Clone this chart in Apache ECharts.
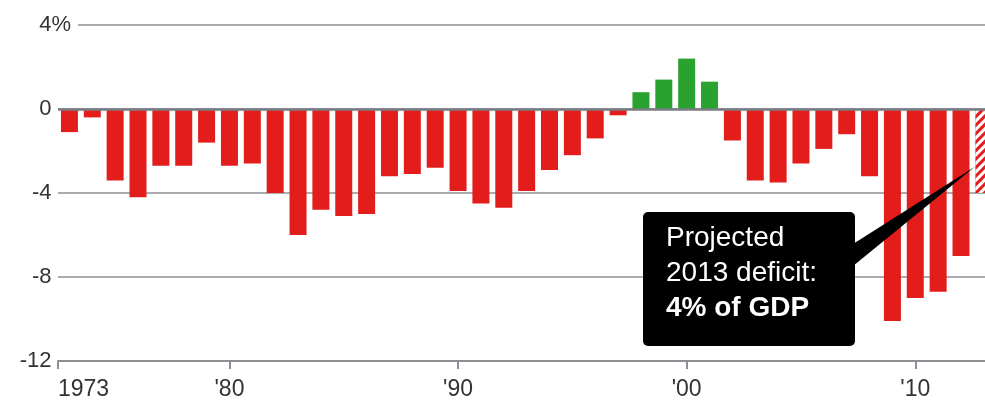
<!DOCTYPE html>
<html>
<head>
<meta charset="utf-8">
<style>
  html, body { margin: 0; padding: 0; background: #fff; }
  #chart { width: 985px; height: 403px; }
</style>
<script src="https://cdn.jsdelivr.net/npm/echarts@6/dist/echarts.min.js"></script>
</head>
<body>
<div id="chart"></div>
<script>
// Federal budget balance, percent of GDP, fiscal years 1973-2013 (2013 projected)
const years = [
  1973, 1974, 1975, 1976, 1977, 1978, 1979, 1980, 1981, 1982,
  1983, 1984, 1985, 1986, 1987, 1988, 1989, 1990, 1991, 1992,
  1993, 1994, 1995, 1996, 1997, 1998, 1999, 2000, 2001, 2002,
  2003, 2004, 2005, 2006, 2007, 2008, 2009, 2010, 2011, 2012,
  2013
];
const balance = [
  -1.1, -0.4, -3.4, -4.2, -2.7, -2.7, -1.6, -2.7, -2.6, -4.0,
  -6.0, -4.8, -5.1, -5.0, -3.2, -3.1, -2.8, -3.9, -4.5, -4.7,
  -3.9, -2.9, -2.2, -1.4, -0.3, 0.8, 1.4, 2.4, 1.3, -1.5,
  -3.4, -3.5, -2.6, -1.9, -1.2, -3.2, -10.1, -9.0, -8.7, -7.0,
  -4.0
];
const projectedYear = 2013;

// x-axis ticks: the first sits on the left edge of the 1973 column
const xTickValues = [1972.5, 1980, 1990, 2000, 2010];
const xTickLabels = ['1973', "'80", "'90", "'00", "'10"];

// y-axis
const yTicks = [4, 0, -4, -8, -12];
const yTickLabels = ['4', '0', '-4', '-8', '-12'];

const RED = '#e31c1c';
const GREEN = '#2aa22f';
const GRID = '#8c8f94';
const TEXT = '#333333';
const FONT = '"Liberation Sans", Arial, Helvetica, sans-serif';
const YFS = 22;

const chart = echarts.init(document.getElementById('chart'), null, { renderer: 'canvas' });

const seriesData = years.map((y, i) => {
  const v = balance[i];
  const item = {
    value: [y, v],
    itemStyle: { color: v >= 0 ? GREEN : RED }
  };
  if (y === projectedYear) {
    item.itemStyle = {
      color: RED,
      decal: {
        symbol: 'rect',
        symbolSize: 1,
        color: '#ffffff',
        dashArrayX: [1, 0],
        dashArrayY: [3, 3],
        rotation: -Math.PI / 4
      }
    };
  }
  return item;
});

const option = {
  animation: false,
  backgroundColor: '#ffffff',
  textStyle: { fontFamily: FONT },
  grid: { left: 58, right: 0, top: 25, bottom: 42, containLabel: false },
  xAxis: {
    type: 'value',
    min: 1972.5,
    // the last (projected) column is cut by the right edge
    max: 2013.05,
    axisLine: { show: true, onZero: false, lineStyle: { color: GRID, width: 2 } },
    axisTick: {
      show: true,
      length: 8,
      lineStyle: { color: GRID, width: 2 },
      customValues: xTickValues
    },
    axisLabel: {
      customValues: xTickValues,
      color: TEXT,
      fontSize: 23,
      fontFamily: FONT,
      margin: 17,
      alignMinLabel: 'left',
      formatter: function (v) {
        const k = xTickValues.indexOf(v);
        return k >= 0 ? xTickLabels[k] : '';
      }
    },
    splitLine: { show: false }
  },
  yAxis: {
    type: 'value',
    min: -12,
    max: 4,
    interval: 4,
    axisLine: { show: false },
    axisTick: { show: false },
    axisLabel: {
      color: TEXT,
      fontSize: YFS,
      fontFamily: FONT,
      margin: -20,
      formatter: function (v) {
        const k = yTicks.indexOf(v);
        const txt = k >= 0 ? yTickLabels[k] : '';
        return v === 4 ? '{n|' + txt + '}{p|%}{w| }' : '{n|' + txt + '}{h|%}{e| }';
      },
      rich: {
        n: { fontSize: YFS, color: TEXT, fontFamily: FONT },
        p: { fontSize: YFS, color: TEXT, fontFamily: FONT, backgroundColor: '#ffffff' },
        h: { fontSize: YFS, color: 'rgba(0,0,0,0)', fontFamily: FONT },
        w: { fontSize: YFS, width: 7, backgroundColor: '#ffffff' },
        e: { fontSize: YFS, width: 7 }
      }
    },
    splitLine: { show: true, lineStyle: { color: GRID, width: 1.5 } }
  },
  series: [{
    type: 'bar',
    barWidth: 17,
    data: seriesData,
    markLine: {
      silent: true,
      symbol: 'none',
      label: { show: false },
      lineStyle: { color: '#7a7d82', width: 2.5, type: 'solid' },
      data: [{ yAxis: 0 }]
    }
  }]
};

chart.setOption(option);

// Callout pointing at the projected bar
const tip = chart.convertToPixel({ gridIndex: 0 }, [projectedYear, -2.75]);
chart.setOption({
  graphic: [
    {
      type: 'polygon',
      z: 100,
      shape: { points: [[853, 244], [tip[0] - 9, tip[1]], [853, 266]] },
      style: { fill: '#000000' }
    },
    {
      type: 'rect',
      z: 100,
      shape: { x: 643, y: 212, width: 212, height: 134, r: 5 },
      style: { fill: '#000000' }
    },
    {
      type: 'text',
      z: 101,
      x: 666,
      y: 221,
      style: {
        text: '{n|Projected}\n{n|2013 deficit:}\n{b|4% of GDP}',
        fill: '#ffffff',
        rich: {
          n: { fontSize: 28, lineHeight: 35, fill: '#ffffff', fontFamily: FONT },
          b: { fontSize: 28, lineHeight: 35, fill: '#ffffff', fontWeight: 'bold', fontFamily: FONT }
        }
      }
    }
  ]
});
</script>
</body>
</html>
